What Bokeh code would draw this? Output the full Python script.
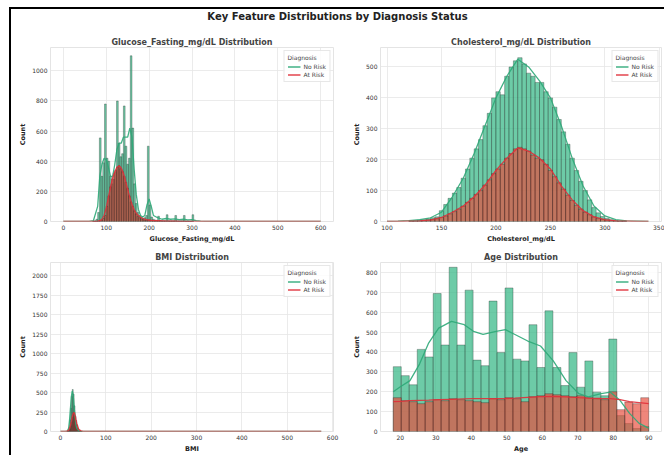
from bokeh.plotting import figure
from bokeh.layouts import column, row
from bokeh.models import Range1d, Legend, LegendItem, Div, FixedTicker
from bokeh.embed import file_html
from bokeh.resources import INLINE

# ---------------- data ----------------
groups = ["No Risk", "At Risk"]

# Glucose (bins of 4 mg/dL starting at 68)
glucose_bin_left = list(range(68, 304, 4))
glucose_no_risk = [0, 5, 15, 60, 555, 300, 390, 780, 420, 400,
                   300, 250, 280, 330, 800, 520, 430, 450, 767, 500,
                   380, 420, 1100, 620, 250, 120, 60, 40, 30, 20,
                   25, 40, 500, 110, 30, 15, 10, 8, 35, 8,
                   5, 5, 5, 45, 5, 5, 5, 5, 40, 5,
                   5, 5, 5, 40, 3, 3, 3, 3, 45]
glucose_at_risk = [0, 0, 1, 2, 5, 10, 20, 40, 100, 170,
                   230, 280, 320, 340, 360, 370, 350, 330, 300, 260,
                   220, 170, 130, 100, 70, 50, 35, 25, 18, 12,
                   10, 8, 10, 8, 6, 5, 4, 4, 3, 3,
                   2, 2, 2, 2, 1, 1, 1, 1, 1, 0,
                   0, 0, 0, 0, 0, 0, 0, 0, 0]
glucose_kde_x = [0, 40, 60, 70, 80, 85, 90, 95, 100, 105, 110, 115, 120, 125, 130, 135, 140,
                 145, 150, 155, 160, 165, 170, 175, 180, 185, 190, 195, 200, 205, 210, 220,
                 230, 240, 250, 260, 270, 280, 290, 300, 310, 320, 340, 400, 500, 600]
glucose_kde_no = [0, 0, 1, 5, 100, 300, 380, 420, 410, 360, 300, 300, 380, 480, 520, 520, 560,
                  560, 560, 620, 560, 350, 180, 80, 40, 30, 40, 110, 150, 100, 40, 25,
                  15, 20, 15, 18, 12, 15, 10, 12, 5, 2, 0, 0, 0, 0]
glucose_kde_at = [0, 0, 0, 0, 2, 5, 15, 40, 90, 160, 230, 290, 330, 360, 370, 355, 320,
                  270, 215, 160, 115, 80, 55, 40, 28, 20, 15, 12, 10, 8, 6, 5,
                  4, 3, 2, 2, 1, 1, 1, 1, 1, 1, 1, 0.5, 0.3, 0]

# Cholesterol (bins of 4 mg/dL starting at 120)
chol_bin_left = list(range(120, 320, 4))
chol_no_risk = [2, 3, 5, 6, 8, 12, 15, 35, 55, 75,
                92, 110, 140, 170, 205, 235, 265, 310, 350, 400,
                420, 410, 470, 500, 520, 530, 510, 480, 470, 450,
                450, 420, 400, 370, 330, 290, 250, 205, 165, 130,
                100, 70, 45, 28, 16, 10, 6, 3, 2, 1]
chol_at_risk = [1, 1, 2, 3, 4, 6, 9, 13, 18, 25,
                32, 40, 50, 62, 75, 88, 100, 118, 135, 155,
                170, 185, 205, 220, 235, 240, 235, 228, 215, 205,
                200, 185, 165, 145, 125, 105, 85, 68, 52, 40,
                30, 22, 15, 10, 7, 5, 3, 2, 1, 1]
chol_kde_x = [100, 110, 120, 130, 140, 150, 160, 170, 180, 190, 200, 210, 220, 230, 240,
              250, 260, 270, 280, 290, 300, 310, 320, 330, 340]
chol_kde_no = [0, 1, 3, 6, 12, 30, 80, 140, 220, 310, 400, 470, 525, 500, 455,
               400, 310, 205, 115, 50, 18, 6, 2, 1, 0]
chol_kde_at = [0, 0, 1, 2, 5, 13, 30, 50, 80, 118, 165, 205, 238, 228, 205,
               170, 115, 70, 35, 15, 6, 2, 1, 0, 0]

# BMI (bins of 2 starting at 14)
bmi_bin_left = list(range(14, 48, 2))
bmi_no_risk = [2, 10, 50, 150, 300, 450, 540, 480, 330, 190, 90, 40, 15, 6, 3, 1, 1]
bmi_at_risk = [0, 2, 10, 30, 70, 120, 180, 240, 245, 200, 140, 85, 45, 20, 8, 3, 1]
bmi_kde_x = [0, 10, 15, 18, 20, 22, 24, 26, 28, 30, 32, 34, 36, 40, 45, 50, 60, 575]
bmi_kde_no = [0, 0, 5, 40, 150, 300, 450, 520, 470, 330, 190, 90, 40, 10, 2, 1, 0, 0]
bmi_kde_at = [0, 0, 3, 15, 40, 80, 130, 190, 230, 245, 210, 150, 100, 30, 8, 2, 0, 0]

# Age (32 bins of 2.25 years from 18 to 90)
age_bin_left = [18 + 2.25 * i for i in range(32)]
age_no_risk = [326, 281, 235, 413, 375, 694, 435, 826, 435, 711,
               359, 331, 656, 397, 722, 364, 355, 537, 322, 607,
               322, 231, 397, 223, 355, 198, 180, 465, 80, 40, 15, 25]
age_at_risk = [170, 155, 150, 140, 150, 160, 155, 165, 160, 155,
               150, 145, 165, 160, 170, 165, 150, 175, 180, 190,
               185, 180, 175, 180, 170, 165, 160, 200, 110, 148, 140, 170]
age_kde_x = [18, 20, 22.7, 25.4, 28, 30.8, 34.4, 38, 40.6, 43.3, 47, 49.6, 52.3, 55.9,
             59.5, 63.1, 66.7, 70.3, 73, 76.6, 79.2, 81.9, 84.6, 87.3, 90]
age_kde_no = [200, 225, 256, 339, 446, 520, 554, 537, 504, 488, 504, 512, 488, 455,
              430, 355, 256, 190, 174, 190, 198, 157, 91, 41, 17]
age_kde_at = [150, 152, 155, 157, 158, 160, 162, 164, 165, 165, 165, 166, 168, 172,
              175, 176, 174, 170, 168, 166, 165, 160, 150, 145, 140]

# ---------------- style ----------------
GREEN = "#3cb98a"
GREEN_LINE = "#2ea878"
RED = "#e74c3c"
RED_LINE = "#e0303a"
FONT = "DejaVu Sans"


def make_panel(title, xlabel, xr, yr, xticks, yticks, w, h, bl, br, bt, bb,
               lefts, width, no_vals, at_vals, kx, kno, kat):
    p = figure(width=w, height=h, x_range=Range1d(*xr), y_range=Range1d(*yr),
               output_backend="svg", toolbar_location=None,
               min_border_left=bl, min_border_right=br,
               min_border_top=bt, min_border_bottom=bb)
    p.title.text = title
    p.title.align = "center"
    p.title.text_font = FONT
    p.title.text_font_size = "8px"
    p.title.text_font_style = "bold"
    p.title.standoff = 2
    p.background_fill_color = "white"
    p.border_fill_color = "white"
    p.outline_line_color = "#e4e4e4"

    rights = [l + width for l in lefts]
    p.quad(left=lefts, right=rights, bottom=0, top=no_vals,
           fill_color=GREEN, fill_alpha=0.75, line_color="#1f2a25",
           line_alpha=0.55, line_width=0.6)
    p.quad(left=lefts, right=rights, bottom=0, top=at_vals,
           fill_color=RED, fill_alpha=0.68, line_color="#2a1f1f",
           line_alpha=0.55, line_width=0.6)
    g_line = p.line(kx, kno, line_color=GREEN_LINE, line_width=1.3, line_alpha=0.9)
    r_line = p.line(kx, kat, line_color=RED_LINE, line_width=1.3, line_alpha=0.9)

    legend = Legend(items=[LegendItem(label=groups[0], renderers=[g_line]),
                           LegendItem(label=groups[1], renderers=[r_line])],
                    title="Diagnosis", location="top_right")
    legend.title_text_font = FONT
    legend.title_text_font_size = "6px"
    legend.title_text_font_style = "normal"
    legend.label_text_font = FONT
    legend.label_text_font_size = "6px"
    legend.glyph_width = 13
    legend.glyph_height = 7
    legend.label_height = 7
    legend.label_standoff = 3
    legend.spacing = 1
    legend.padding = 3
    legend.margin = 3
    legend.title_standoff = 2
    legend.border_line_color = "#d0d0d0"
    legend.background_fill_alpha = 0.85
    p.add_layout(legend)

    p.xaxis.ticker = FixedTicker(ticks=xticks)
    p.yaxis.ticker = FixedTicker(ticks=yticks)
    p.xaxis.axis_label = xlabel
    p.yaxis.axis_label = "Count"
    for ax in (p.xaxis, p.yaxis):
        ax.axis_line_color = None
        ax.major_tick_line_color = None
        ax.minor_tick_line_color = None
        ax.major_tick_out = 0
        ax.major_tick_in = 0
        ax.minor_tick_out = 0
        ax.minor_tick_in = 0
        ax.major_label_text_font = FONT
        ax.major_label_text_font_size = "6px"
        ax.major_label_text_color = "#333333"
        ax.axis_label_text_font = FONT
        ax.axis_label_text_font_size = "6.5px"
        ax.axis_label_text_font_style = "bold"
        ax.axis_label_text_color = "#222222"
        ax.major_label_standoff = 3
        ax.axis_label_standoff = 2
    p.grid.grid_line_color = "#e6e6e6"
    p.grid.grid_line_width = 0.8
    return p


p1 = make_panel("Glucose_Fasting_mg/dL Distribution", "Glucose_Fasting_mg/dL",
                (-30, 630), (0, 1155), [0, 100, 200, 300, 400, 500, 600],
                [0, 200, 400, 600, 800, 1000], 334, 220, 39, 12, 22, 23,
                glucose_bin_left, 4, glucose_no_risk, glucose_at_risk,
                glucose_kde_x, glucose_kde_no, glucose_kde_at)
p2 = make_panel("Cholesterol_mg/dL Distribution", "Cholesterol_mg/dL",
                (94, 352), (0, 563), [100, 150, 200, 250, 300, 350],
                [0, 100, 200, 300, 400, 500], 319, 220, 35, 3, 22, 23,
                chol_bin_left, 4, chol_no_risk, chol_at_risk,
                chol_kde_x, chol_kde_no, chol_kde_at)
p3 = make_panel("BMI Distribution", "BMI",
                (-22, 602), (0, 2172), [0, 100, 200, 300, 400, 500, 600],
                [0, 250, 500, 750, 1000, 1250, 1500, 1750, 2000], 334, 210, 39, 12, 17, 20,
                bmi_bin_left, 2, bmi_no_risk, bmi_at_risk,
                bmi_kde_x, bmi_kde_no, bmi_kde_at)
p4 = make_panel("Age Distribution", "Age",
                (14.4, 93.6), (0, 850), [20, 30, 40, 50, 60, 70, 80, 90],
                [0, 100, 200, 300, 400, 500, 600, 700, 800], 319, 210, 35, 3, 17, 20,
                age_bin_left, 2.25, age_no_risk, age_at_risk,
                age_kde_x, age_kde_no, age_kde_at)

title = Div(text="Key Feature Distributions by Diagnosis Status", width=653, height=16,
            margin=0,
            styles={"font-family": FONT, "font-size": "10px", "font-weight": "bold",
                    "text-align": "center", "color": "#222222", "line-height": "16px"})

layout = column(title, row(p1, p2, spacing=0), row(p3, p4, spacing=0), spacing=0,
                margin=(7, 0, 0, 9),
                styles={"border-left": "2px solid black", "border-top": "2px solid black",
                        "background-color": "white"})

open("out.html", "w").write(file_html(layout, INLINE))
